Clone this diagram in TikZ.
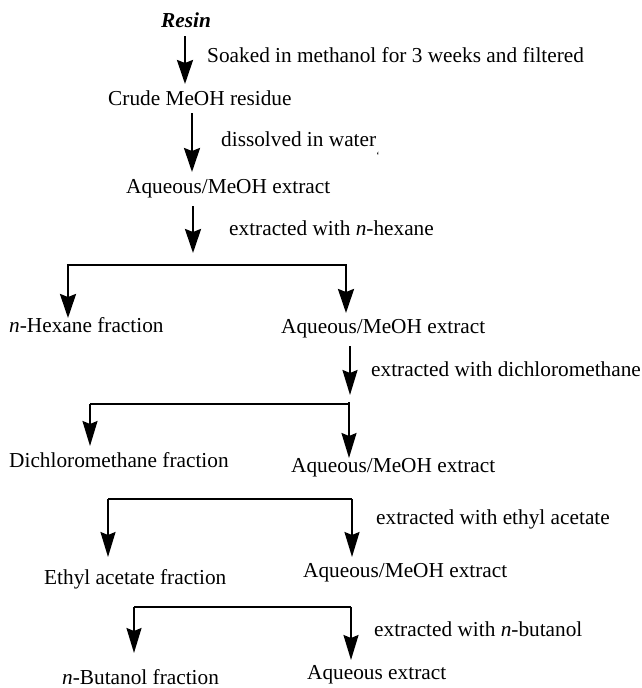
\documentclass[tikz,border=0pt]{standalone}
\usepackage{fontspec}
\setmainfont{Liberation Serif}
\usetikzlibrary{arrows.meta}
\begin{document}
\begin{tikzpicture}[x=1pt,y=-1pt,
  txt/.style={font=\fontsize{21.3}{25}\selectfont, inner sep=0pt, anchor=west},
  arr/.style={-{Stealth[length=24pt,width=16pt,inset=3pt]}, line width=2.4pt},
  arrthin/.style={-{Stealth[length=25pt,width=15pt,inset=3pt]}, line width=1.9pt},
  barthick/.style={line width=2.6pt},
  barthin/.style={line width=1.3pt}]
\useasboundingbox (0,0) rectangle (641,688);
% texts
\node[txt, anchor=center, font=\fontsize{21.3}{25}\selectfont\bfseries\itshape] (resin) at (186,20) {Resin};
\node[txt] (l1) at (207,55) {Soaked in methanol for 3 weeks and filtered};
\node[txt] (crude) at (108,98) {Crude MeOH residue};
\node[txt] (l2) at (221,139) {dissolved in water};
\node[inner sep=0pt, font=\fontsize{11}{13}\selectfont] (tick) at (378,156) {\symbol{96}};
\node[txt] (aq1) at (126,189) {Aqueous/MeOH extract};
\node[txt] (l3) at (229,228) {extracted with \textit{n}-hexane};
\node[txt] (hex) at (9,325) {\textit{n}-Hexane fraction};
\node[txt] (aq2) at (281,329) {Aqueous/MeOH extract};
\node[txt] (l4) at (371,369) {extracted with dichloromethane};
\node[txt] (dcm) at (9,460) {Dichloromethane fraction};
\node[txt] (aq3) at (291,468) {Aqueous/MeOH extract};
\node[txt] (l5) at (376,519) {extracted with ethyl acetate};
\node[txt] (ea) at (44,579) {Ethyl acetate fraction};
\node[txt] (aq4) at (303,573) {Aqueous/MeOH extract};
\node[txt] (l6) at (374,629) {extracted with \textit{n}-butanol};
\node[txt] (bu) at (62,677) {\textit{n}-Butanol fraction};
\node[txt] (aqf) at (307,675) {Aqueous extract};
% coordinates
\coordinate (a1s) at (185,36);  \coordinate (a1e) at (185,84);
\coordinate (a2s) at (192,113); \coordinate (a2e) at (192,172);
\coordinate (a3s) at (193,206); \coordinate (a3e) at (193,253);
\coordinate (b1l) at (68,265);  \coordinate (b1r) at (346,265);
\coordinate (b1le) at (68,318); \coordinate (b1re) at (346,313);
\coordinate (a4s) at (350,346); \coordinate (a4e) at (350,395);
\coordinate (b2l) at (90,404);  \coordinate (b2r) at (349,404);
\coordinate (b2le) at (90,446); \coordinate (b2rs) at (349,402); \coordinate (b2re) at (349,458);
\coordinate (b3l) at (108,499); \coordinate (b3r) at (352,499);
\coordinate (b3le) at (108,557); \coordinate (b3re) at (352,557);
\coordinate (b4l) at (134,607); \coordinate (b4r) at (351,607);
\coordinate (b4le) at (134,653); \coordinate (b4re) at (351,660);
% connectors
\draw[arr] (a1s) -- (a1e);
\draw[arr] (a2s) -- (a2e);
\draw[arr] (a3s) -- (a3e);
\draw[barthick] ([xshift=-1.2pt]b1l) -- ([xshift=1.2pt]b1r);
\draw[arr] (b1l) -- (b1le);
\draw[arr] (b1r) -- (b1re);
\draw[arrthin] (a4s) -- (a4e);
\draw[barthin] (b2l) -- (b2r);
\draw[arrthin] (b2l) -- (b2le);
\draw[arrthin] (b2rs) -- (b2re);
\draw[barthin] (b3l) -- (b3r);
\draw[arrthin] (b3l) -- (b3le);
\draw[arrthin] (b3r) -- (b3re);
\draw[barthin] (b4l) -- (b4r);
\draw[arrthin] (b4l) -- (b4le);
\draw[arrthin] (b4r) -- (b4re);
\end{tikzpicture}
\end{document}
